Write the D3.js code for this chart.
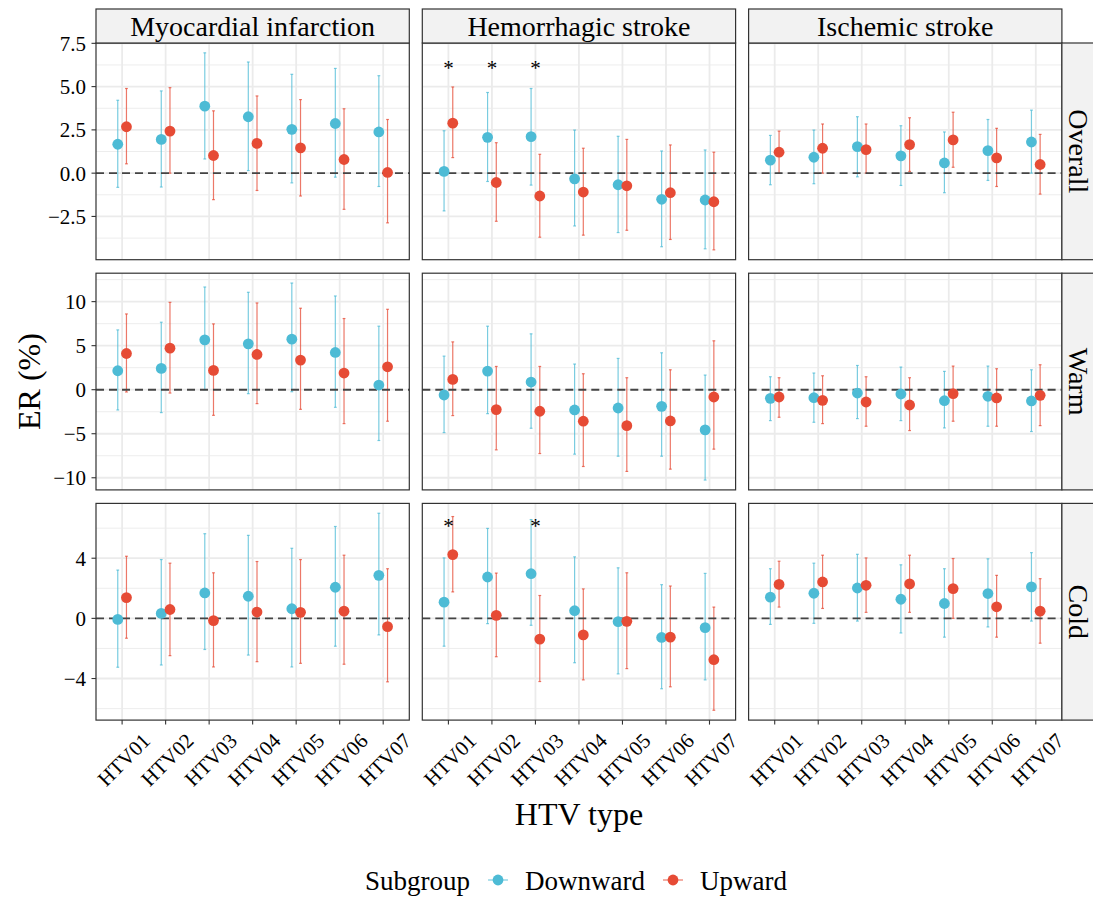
<!DOCTYPE html>
<html>
<head>
<meta charset="utf-8">
<script src="https://cdn.jsdelivr.net/npm/d3@7"></script>
<style>
  body { margin: 0; background: #fff; }
</style>
</head>
<body>
<svg id="chart" width="1093" height="900"></svg>
<script>
// Categories
const htvTypes = ["HTV01", "HTV02", "HTV03", "HTV04", "HTV05", "HTV06", "HTV07"];
const outcomes = ["Myocardial infarction", "Hemorrhagic stroke", "Ischemic stroke"];
const seasons = ["Overall", "Warm", "Cold"];
const subgroups = ["Downward", "Upward"];

// Y tick labels per row
const overallTicks = [-2.5, 0, 2.5, 5, 7.5];
const warmTicks = [-10, -5, 0, 5, 10];
const coldTicks = [-4, 0, 4];

// ER (%) estimates and 95% CI, one inner list per outcome (MI, HS, IS)
const overallDownEst = [[1.67, 1.95, 3.87, 3.26, 2.53, 2.87, 2.38], [0.10, 2.07, 2.11, -0.33, -0.67, -1.51, -1.55], [0.75, 0.92, 1.53, 1.00, 0.59, 1.30, 1.80]];
const overallDownLo  = [[-0.82, -0.80, 0.82, 0.15, -0.56, -0.23, -0.77], [-2.18, -0.48, -0.69, -3.05, -3.43, -4.25, -4.37], [-0.67, -0.61, -0.21, -0.71, -1.13, -0.42, 0.00]];
const overallDownHi  = [[4.21, 4.75, 6.95, 6.42, 5.71, 6.05, 5.63], [2.45, 4.66, 4.89, 2.49, 2.13, 1.28, 1.34], [2.18, 2.49, 3.26, 2.74, 2.38, 3.10, 3.64]];
const overallUpEst = [[2.68, 2.43, 1.02, 1.72, 1.46, 0.79, 0.04], [2.89, -0.54, -1.32, -1.09, -0.73, -1.13, -1.65], [1.21, 1.44, 1.36, 1.65, 1.92, 0.88, 0.50]];
const overallUpLo  = [[0.54, 0.00, -1.53, -1.00, -1.32, -2.09, -2.87], [0.90, -2.78, -3.70, -3.58, -3.30, -3.83, -4.43], [0.00, 0.00, 0.00, 0.10, 0.34, -0.77, -1.21]];
const overallUpHi  = [[4.89, 4.94, 3.60, 4.46, 4.25, 3.72, 3.10], [4.98, 1.76, 1.09, 1.44, 1.95, 1.63, 1.21], [2.43, 2.84, 2.84, 3.20, 3.52, 2.59, 2.24]];

const warmDownEst = [[2.15, 2.42, 5.66, 5.21, 5.74, 4.23, 0.53], [-0.60, 2.11, 0.87, -2.30, -2.08, -1.89, -4.57], [-0.98, -0.91, -0.38, -0.49, -1.25, -0.75, -1.28]];
const warmDownLo  = [[-2.30, -2.60, 0.00, -0.45, -0.23, -2.00, -5.77], [-4.87, -2.72, -4.38, -7.32, -7.55, -7.55, -10.26], [-3.51, -3.70, -3.28, -3.51, -4.34, -4.15, -4.75]];
const warmDownHi  = [[6.79, 7.66, 11.66, 11.06, 12.11, 10.64, 7.21], [3.81, 7.21, 6.34, 2.91, 3.55, 4.19, 1.66], [1.47, 1.89, 2.75, 2.57, 2.08, 2.68, 2.26]];
const warmUpEst = [[4.11, 4.72, 2.19, 4.00, 3.36, 1.89, 2.60], [1.17, -2.26, -2.45, -3.58, -4.08, -3.55, -0.83], [-0.83, -1.21, -1.40, -1.74, -0.45, -0.94, -0.64]];
const warmUpLo  = [[-0.26, -0.38, -2.91, -1.58, -2.23, -3.85, -3.58], [-2.94, -6.83, -7.25, -8.72, -9.28, -9.02, -6.75], [-3.13, -3.85, -4.15, -4.64, -3.58, -4.15, -4.08]];
const warmUpHi  = [[8.60, 9.92, 7.47, 9.85, 9.25, 8.08, 9.13], [5.43, 2.64, 2.64, 1.81, 1.36, 2.26, 5.55], [1.36, 1.58, 1.47, 1.36, 2.68, 2.38, 2.83]];

const coldDownEst = [[-0.07, 0.33, 1.69, 1.47, 0.64, 2.07, 2.86], [1.08, 2.75, 2.97, 0.51, -0.22, -1.27, -0.62], [1.41, 1.67, 2.02, 1.27, 0.99, 1.65, 2.09]];
const coldDownLo  = [[-3.25, -3.10, -2.07, -2.44, -3.23, -1.85, -1.10], [-1.85, -0.35, -0.46, -2.95, -3.69, -4.68, -4.09], [-0.40, -0.33, -0.18, -0.97, -1.25, -0.57, -0.18]];
const coldDownHi  = [[3.21, 3.91, 5.63, 5.52, 4.66, 6.11, 6.99], [4.02, 5.98, 6.57, 4.09, 3.36, 2.24, 2.99], [3.30, 3.67, 4.26, 3.56, 3.30, 3.96, 4.37]];
const coldUpEst = [[1.38, 0.59, -0.15, 0.42, 0.40, 0.48, -0.55], [4.24, 0.20, -1.38, -1.10, -0.20, -1.25, -2.75], [2.26, 2.42, 2.20, 2.29, 1.98, 0.77, 0.48]];
const coldUpLo  = [[-1.32, -2.48, -3.23, -2.88, -2.99, -3.05, -4.22], [1.76, -2.55, -4.20, -4.09, -3.34, -4.55, -6.11], [0.75, 0.66, 0.40, 0.40, 0.00, -1.25, -1.65]];
const coldUpHi  = [[4.13, 3.67, 3.03, 3.78, 3.91, 4.20, 3.30], [6.77, 3.01, 1.52, 1.96, 3.03, 2.15, 0.75], [3.80, 4.20, 4.02, 4.20, 3.98, 2.86, 2.64]];

// Significance markers
const sigSeason = ["Overall", "Overall", "Overall", "Cold", "Cold"];
const sigOutcome = ["Hemorrhagic stroke", "Hemorrhagic stroke", "Hemorrhagic stroke", "Hemorrhagic stroke", "Hemorrhagic stroke"];
const sigHtv = ["HTV01", "HTV02", "HTV03", "HTV01", "HTV03"];
const sigY = [6.2, 6.2, 6.2, 6.25, 6.25];

// Build a lookup from the arrays above
const seriesTable = {
    Overall: { ticks: overallTicks, fmt: d3.format(".1f"),
        Downward: [overallDownEst, overallDownLo, overallDownHi], Upward: [overallUpEst, overallUpLo, overallUpHi] },
    Warm: { ticks: warmTicks, fmt: d3.format("d"),
        Downward: [warmDownEst, warmDownLo, warmDownHi], Upward: [warmUpEst, warmUpLo, warmUpHi] },
    Cold: { ticks: coldTicks, fmt: d3.format("d"),
        Downward: [coldDownEst, coldDownLo, coldDownHi], Upward: [coldUpEst, coldUpLo, coldUpHi] }
};

const colors = d3.scaleOrdinal().domain(subgroups).range(["#4DBBD5", "#E64B35"]);
const dodge = d3.scaleOrdinal().domain(subgroups).range([-0.1, 0.1]);

// Layout of the facet grid
const panelLeft = 96, panelTop = 43;
const panelW = 313.3, panelH = 216.7;
const gapX = 13, gapY = 13.5;
const stripSize = 34;
const fontFamily = "'Liberation Serif', 'Times New Roman', 'DejaVu Serif', serif";

const svg = d3.select("#chart").attr("font-family", fontFamily);

const x = d3.scalePoint().domain(htvTypes).range([0, panelW]).padding(0.6);
const step = x.step();

// Rows drawn one after another
seasons.forEach(function(season, r) {
    const info = seriesTable[season];
    const top = panelTop + r * (panelH + gapY);

    // Y domain from all values with 5% expansion
    var all = [];
    subgroups.forEach(function(g) {
        info[g][1].forEach(function(a) { all = all.concat(a); });
        info[g][2].forEach(function(a) { all = all.concat(a); });
    });
    sigY.forEach(function(v, i) { if (sigSeason[i] == season) all.push(v); });
    const ext = d3.extent(all);
    const pad = (ext[1] - ext[0]) * 0.05;
    const y = d3.scaleLinear().domain([ext[0] - pad, ext[1] + pad]).range([panelH, 0]);

    // Minor breaks halfway between majors
    const tStep = info.ticks[1] - info.ticks[0];
    var minors = [];
    for (var v = info.ticks[0] - tStep / 2 - 5 * tStep; v <= y.domain()[1]; v += tStep) {
        if (v >= y.domain()[0]) minors.push(v);
    }

    outcomes.forEach(function(outcome, c) {
        const left = panelLeft + c * (panelW + gapX);
        const g = svg.append("g").attr("transform", `translate(${left},${top})`);

        // Grid
        g.selectAll(".minor").data(minors).enter().append("line")
            .attr("x1", 0).attr("x2", panelW)
            .attr("y1", d => y(d)).attr("y2", d => y(d))
            .attr("stroke", "#EBEBEB").attr("stroke-width", 0.9);
        g.selectAll(".majorY").data(info.ticks).enter().append("line")
            .attr("x1", 0).attr("x2", panelW)
            .attr("y1", d => y(d)).attr("y2", d => y(d))
            .attr("stroke", "#EBEBEB").attr("stroke-width", 1.8);
        g.selectAll(".majorX").data(htvTypes).enter().append("line")
            .attr("x1", d => x(d)).attr("x2", d => x(d))
            .attr("y1", 0).attr("y2", panelH)
            .attr("stroke", "#EBEBEB").attr("stroke-width", 1.8);

        // Flatten the panel rows
        var rows = [];
        subgroups.forEach(function(sg) {
            htvTypes.forEach(function(h, i) {
                rows.push({ group: sg, htv: h,
                    est: info[sg][0][c][i], lo: info[sg][1][c][i], hi: info[sg][2][c][i] });
            });
        });
        const px = d => x(d.htv) + dodge(d.group) * step;

        // Error bars
        const bars = g.selectAll(".err").data(rows).enter().append("g")
            .attr("stroke", d => colors(d.group))
            .attr("stroke-width", 1.2)
            .attr("stroke-opacity", 0.75);
        bars.append("line")
            .attr("x1", px).attr("x2", px)
            .attr("y1", d => y(d.lo)).attr("y2", d => y(d.hi));
        bars.append("line")
            .attr("x1", d => px(d) - 1.4).attr("x2", d => px(d) + 1.4)
            .attr("y1", d => y(d.lo)).attr("y2", d => y(d.lo));
        bars.append("line")
            .attr("x1", d => px(d) - 1.4).attr("x2", d => px(d) + 1.4)
            .attr("y1", d => y(d.hi)).attr("y2", d => y(d.hi));

        // Zero reference line
        g.append("line")
            .attr("x1", 0).attr("x2", panelW)
            .attr("y1", y(0)).attr("y2", y(0))
            .attr("stroke", "#444").attr("stroke-width", 1.9)
            .attr("stroke-dasharray", "8,5");

        // Points
        g.selectAll(".pt").data(rows).enter().append("circle")
            .attr("cx", px).attr("cy", d => y(d.est)).attr("r", 5.4)
            .attr("fill", d => colors(d.group));

        // Asterisks
        sigHtv.forEach(function(h, i) {
            if (sigSeason[i] == season && sigOutcome[i] == outcome) {
                g.append("text")
                    .attr("x", x(h)).attr("y", y(sigY[i]) + 9)
                    .attr("text-anchor", "middle")
                    .attr("font-size", 21)
                    .text("*");
            }
        });

        // Panel border
        g.append("rect")
            .attr("width", panelW).attr("height", panelH)
            .attr("fill", "none").attr("stroke", "#333").attr("stroke-width", 1.2);

        // Y axis on the first column
        if (c == 0) {
            const ya = g.selectAll(".yt").data(info.ticks).enter();
            ya.append("line")
                .attr("x1", -4.5).attr("x2", 0)
                .attr("y1", d => y(d)).attr("y2", d => y(d))
                .attr("stroke", "#333").attr("stroke-width", 1.1);
            ya.append("text")
                .attr("x", -10).attr("y", d => y(d))
                .attr("dy", "0.35em")
                .attr("text-anchor", "end")
                .attr("font-size", 21)
                .text(d => info.fmt(d));
        }

        // X axis on the last row
        if (r == seasons.length - 1) {
            const xa = g.selectAll(".xt").data(htvTypes).enter();
            xa.append("line")
                .attr("x1", d => x(d)).attr("x2", d => x(d))
                .attr("y1", panelH).attr("y2", panelH + 4.5)
                .attr("stroke", "#333").attr("stroke-width", 1.1);
            xa.append("text")
                .attr("transform", d => `translate(${x(d) + 1.5},${panelH + 39.5}) rotate(-45)`)
                .attr("text-anchor", "middle")
                .attr("dy", "0.35em")
                .attr("font-size", 21)
                .text(d => d);
        }

        // Top strips
        if (r == 0) {
            svg.append("rect")
                .attr("x", left).attr("y", panelTop - stripSize)
                .attr("width", panelW).attr("height", stripSize)
                .attr("fill", "#F2F2F2").attr("stroke", "#333").attr("stroke-width", 1.2);
            svg.append("text")
                .attr("x", left + panelW / 2).attr("y", panelTop - 7.5)
                .attr("text-anchor", "middle")
                .attr("font-size", 28)
                .text(outcome);
        }
    });

    // Right strip for the row
    const right = panelLeft + 3 * panelW + 2 * gapX;
    svg.append("rect")
        .attr("x", right).attr("y", top)
        .attr("width", stripSize).attr("height", panelH)
        .attr("fill", "#F2F2F2").attr("stroke", "#333").attr("stroke-width", 1.2);
    svg.append("text")
        .attr("transform", `translate(${right + 7},${top + panelH / 2}) rotate(90)`)
        .attr("text-anchor", "middle")
        .attr("font-size", 28)
        .text(season);
});

// Axis titles
const gridBottom = panelTop + 3 * panelH + 2 * gapY;
svg.append("text")
    .attr("transform", `translate(40,${(panelTop + gridBottom) / 2}) rotate(-90)`)
    .attr("text-anchor", "middle")
    .attr("font-size", 32)
    .text("ER (%)");
svg.append("text")
    .attr("x", panelLeft + (3 * panelW + 2 * gapX) / 2).attr("y", 825)
    .attr("text-anchor", "middle")
    .attr("font-size", 32)
    .text("HTV type");

// Legend
const legend = svg.append("g").attr("transform", "translate(365,890)");
const title = legend.append("text").attr("font-size", 27).text("Subgroup");
var cursor = title.node().getComputedTextLength() + 28;
subgroups.forEach(function(sg) {
    legend.append("line")
        .attr("x1", cursor - 10).attr("x2", cursor + 10)
        .attr("y1", -10).attr("y2", -10)
        .attr("stroke", colors(sg)).attr("stroke-width", 1.2).attr("stroke-opacity", 0.75);
    legend.append("circle")
        .attr("cx", cursor).attr("cy", -10).attr("r", 5.4)
        .attr("fill", colors(sg));
    const t = legend.append("text")
        .attr("x", cursor + 27)
        .attr("font-size", 27)
        .text(sg);
    cursor += 27 + t.node().getComputedTextLength() + 28;
});

// Make sure every label uses the serif face
svg.selectAll("text").attr("font-family", fontFamily).attr("fill", "#000");
</script>
</body>
</html>
